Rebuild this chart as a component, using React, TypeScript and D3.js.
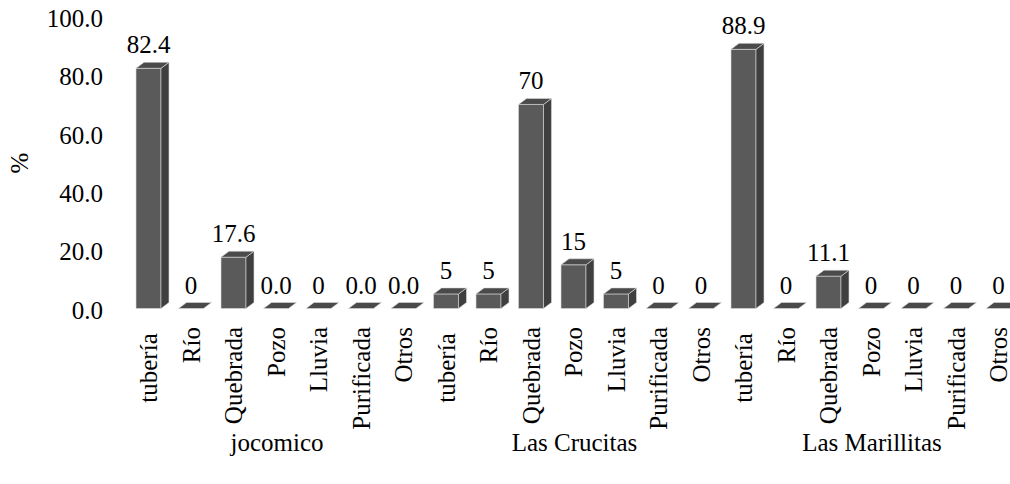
import React from "react";
import * as d3 from "d3";

const groups = ["jocomico", "Las Crucitas", "Las Marillitas"];
const sources = ["tubería ", "Río", "Quebrada", "Pozo", "Lluvia", "Purificada", "Otros"];
const jocomicoValues = [82.4, 0, 17.6, 0, 0, 0, 0];
const jocomicoLabels = ["82.4", "0", "17.6", "0.0", "0", "0.0", "0.0"];
const crucitasValues = [5, 5, 70, 15, 5, 0, 0];
const crucitasLabels = ["5", "5", "70", "15", "5", "0", "0"];
const marillitasValues = [88.9, 0, 11.1, 0, 0, 0, 0];
const marillitasLabels = ["88.9", "0", "11.1", "0", "0", "0", "0"];
const yTicks = [0, 20, 40, 60, 80, 100];

const allValues = [jocomicoValues, crucitasValues, marillitasValues];
const allLabels = [jocomicoLabels, crucitasLabels, marillitasLabels];

type Item = { key: string; group: string; source: string; value: number; label: string };
const items: Item[] = [];
groups.forEach((g, gi) =>
  sources.forEach((s, si) =>
    items.push({ key: `${gi}-${si}`, group: g, source: s, value: allValues[gi][si], label: allLabels[gi][si] })
  )
);

const FONT = '"Liberation Serif", "Times New Roman", Times, "DejaVu Serif", serif';
const textStyle: React.CSSProperties = { fontFamily: FONT, fontSize: "25px", whiteSpace: "pre" };

export default function App() {
  const W = 1010, H = 484;
  const p = 0.4118;
  const x = d3
    .scaleBand<string>()
    .domain(items.map((d) => d.key))
    .range([127.25, 127.25 + 21 * 42.5])
    .paddingInner(p)
    .paddingOuter(p / 2);
  const yAxis = d3.scaleLinear().domain([0, 100]).range([310, 18.5]);
  const yBar = d3.scaleLinear().domain([0, 100]).range([308.5, 17]);
  const dx = 8, dy = 6;
  const bw = x.bandwidth();

  return (
    <svg width={W} height={H} style={{ position: "absolute", left: 0, top: 0 }}>
      <rect width={W} height={H} fill="#fff" />
      {yTicks.map((t) => (
        <text key={t} x={103} y={yAxis(t) + 8.5} textAnchor="end" style={textStyle} fill="#000">
          {t.toFixed(1)}
        </text>
      ))}
      <text transform={`translate(28,163) rotate(-90)`} textAnchor="middle" style={textStyle} fill="#000">%</text>
      {items.map((d) => {
        const x0 = x(d.key)!;
        const x1 = x0 + bw;
        const yb = yBar(0);
        const yt = yBar(d.value);
        const front = `M${x0},${yt}L${x1},${yt}L${x1},${yb}L${x0},${yb}Z`;
        const top = `M${x0},${yt}L${x0 + dx},${yt - dy}L${x1 + dx},${yt - dy}L${x1},${yt}Z`;
        const side = `M${x1},${yt}L${x1 + dx},${yt - dy}L${x1 + dx},${yb - dy}L${x1},${yb}Z`;
        return (
          <g key={d.key}>
            {d.value > 0 && <path d={front} fill="#5a5a5a" stroke="#dcdcdc" strokeWidth={0.6} />}
            {d.value > 0 && <path d={side} fill="#3f3f3f" stroke="#dcdcdc" strokeWidth={0.6} />}
            <path d={top} fill="#4a4a4a" stroke="#dcdcdc" strokeWidth={0.6} />
            <text x={(x0 + x1) / 2} y={yt - dy - 9} textAnchor="middle" style={textStyle} fill="#000">
              {d.label}
            </text>
          </g>
        );
      })}
      {items.map((d) => {
        const cx = x(d.key)! + bw / 2;
        return (
          <text
            key={"l" + d.key}
            transform={`translate(${cx + 8.5},327) rotate(-90)`}
            textAnchor="end"
            style={textStyle}
            fill="#000"
          >
            {d.source}
          </text>
        );
      })}
      {groups.map((g, gi) => {
        const cx = x(`${gi}-3`)! + bw / 2;
        return (
          <text key={g} x={cx + 1} y={451} textAnchor="middle" style={textStyle} fill="#000">
            {g}
          </text>
        );
      })}
    </svg>
  );
}
